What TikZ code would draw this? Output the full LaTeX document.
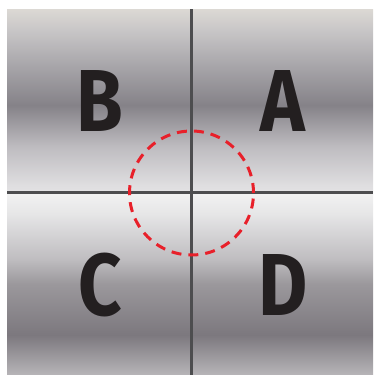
\documentclass[tikz,border=0pt]{standalone}
\usepackage{fontspec}
\setmainfont{Fira Sans}
\usetikzlibrary{calc}
\definecolor{tb0}{HTML}{E3E2E4}
\definecolor{tb1}{HTML}{DFDEE0}
\definecolor{tb2}{HTML}{BEBCC0}
\definecolor{tb3}{HTML}{858288}
\definecolor{tb4}{HTML}{A9A7AB}
\definecolor{tb5}{HTML}{C8C6C7}
\definecolor{tb6}{HTML}{DCD9D4}
\definecolor{bb0}{HTML}{B7B5B8}
\definecolor{bb1}{HTML}{7C787E}
\definecolor{bb2}{HTML}{9B989C}
\definecolor{bb3}{HTML}{BFBDC0}
\definecolor{bb4}{HTML}{E6E6E7}
\definecolor{bb5}{HTML}{F2F2F2}
\definecolor{divider}{HTML}{4D4D4F}
\definecolor{ink}{HTML}{231F20}
\definecolor{zone}{HTML}{E8202A}
\pgfdeclareverticalshading{tophalf}{100bp}{
  color(0bp)=(tb0); color(25bp)=(tb0);
  color(26.9bp)=(tb1);
  color(37.5bp)=(tb2);
  color(48.75bp)=(tb3);
  color(60bp)=(tb4);
  color(69.25bp)=(tb5);
  color(75bp)=(tb6); color(100bp)=(tb6)}
\pgfdeclareverticalshading{bothalf}{100bp}{
  color(0bp)=(bb0); color(25bp)=(bb0);
  color(36bp)=(bb1);
  color(50bp)=(bb2);
  color(56.75bp)=(bb3);
  color(69.2bp)=(bb4);
  color(75bp)=(bb5); color(100bp)=(bb5)}
\newcommand{\narrowletter}[1]{\scalebox{0.86}[1]{#1}}
\tikzset{
  letter/.style={text=ink, font=\fontsize{88}{88}\selectfont\bfseries, inner sep=0pt, anchor=center},
  divline/.style={draw=divider, line width=3pt},
  zonecircle/.style={draw=zone, line width=3pt, dash pattern=on 10pt off 7pt}
}
\begin{document}
\begin{tikzpicture}[x=1pt,y=-1pt]
\useasboundingbox (0,0) rectangle (373,375);
\fill[white] (0,0) rectangle (373,375);
\shade[shading=tophalf] (7,9) rectangle (373,192.5);
\shade[shading=bothalf] (7,192.5) rectangle (373,375);
\node[letter] (B) at (100,101) {\narrowletter{B}};
\node[letter] (A) at (283,101) {\narrowletter{A}};
\node[letter] (C) at (100,285) {\narrowletter{C}};
\node[letter] (D) at (283,285) {\narrowletter{D}};
\coordinate (top) at (191.5,9);
\coordinate (bottom) at (191.5,375);
\coordinate (left) at (7,192.5);
\coordinate (right) at (373,192.5);
\draw[divline] (top) -- (bottom);
\draw[divline] (left) -- (right);
\node[zonecircle, circle, minimum size=124pt, inner sep=0pt] (zone) at (191.5,193) {};
\end{tikzpicture}
\end{document}
